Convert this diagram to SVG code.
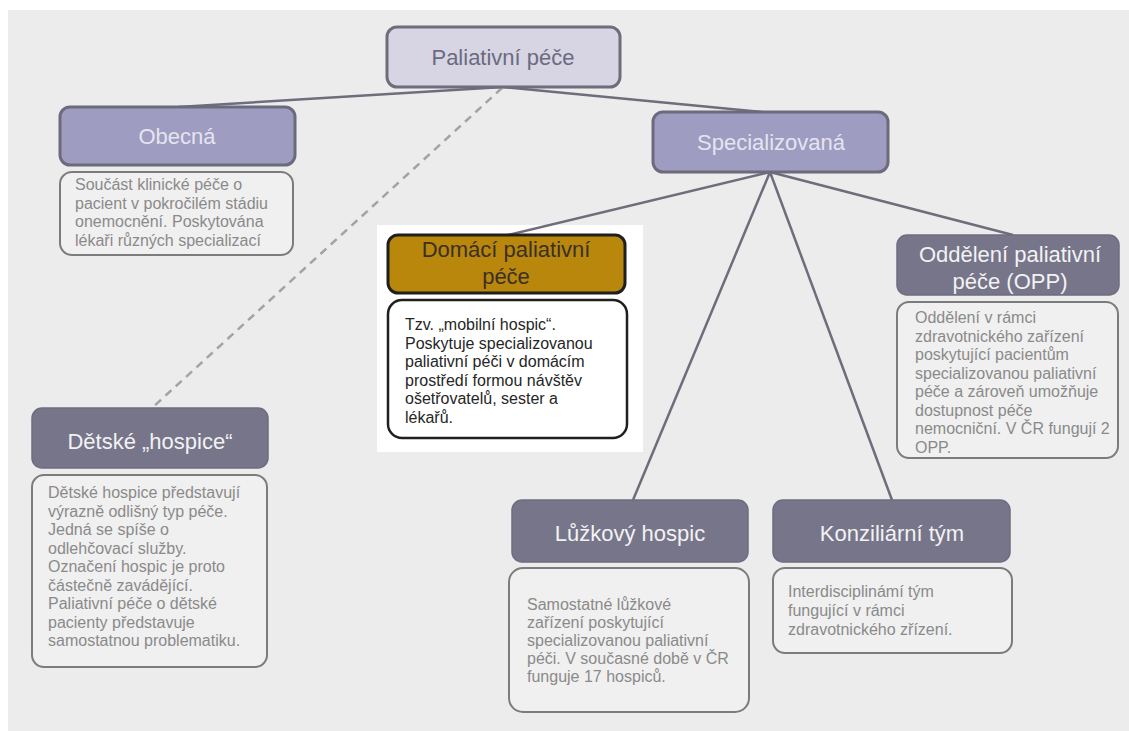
<svg xmlns="http://www.w3.org/2000/svg" width="1129" height="731" viewBox="0 0 1129 731">
<style>
.hdrL{fill:#d7d5e3;stroke:#6f6d7c;stroke-width:3}
.hdrM{fill:#9e9cc1;stroke:#6c6a7c;stroke-width:3}
.hdrD{fill:#77758a;stroke:#6e6c80;stroke-width:1.5}
.desc{fill:#f0f0f0;stroke:#7c7c7c;stroke-width:2}
.conn{stroke:#6f6d7c;stroke-width:2.5;fill:none}
.dash{stroke:#a3a3a3;stroke-width:2.5;fill:none;stroke-dasharray:8 6}
text{font-family:"Liberation Sans",Arial,sans-serif}
.tH{font-size:22px;text-anchor:middle}
.tD{font-size:16px;fill:#8a8a8a}
</style>
<rect x="8" y="10" width="1121" height="721" fill="#ececec"/>
<rect x="377" y="225" width="266" height="227" fill="#ffffff"/>
<g id="connectors">
<line class="conn" x1="503" y1="87" x2="178" y2="107"/>
<line class="conn" x1="503" y1="87" x2="762" y2="112"/>
<line class="dash" x1="502" y1="88" x2="152" y2="408"/>
<line class="conn" x1="770" y1="172" x2="508" y2="235"/>
<line class="conn" x1="770" y1="172" x2="633" y2="500"/>
<line class="conn" x1="770" y1="172" x2="892" y2="500"/>
<line class="conn" x1="770" y1="172" x2="1013" y2="235"/>
</g>
<g id="paliativni">
<rect class="hdrL" x="387" y="27" width="233" height="60" rx="10"/>
<text class="tH" x="503" y="65" fill="#6c6a80">Paliativní péče</text>
</g>
<g id="obecna">
<rect class="hdrM" x="60" y="107" width="235" height="58" rx="10"/>
<text class="tH" x="177" y="144" fill="#e6e4f0">Obecná</text>
<rect class="desc" x="60" y="172" width="233" height="83" rx="12"/>
<text class="tD" x="75"><tspan x="75" y="190">Součást klinické péče o</tspan><tspan x="75" y="208.5">pacient v pokročilém stádiu</tspan><tspan x="75" y="227">onemocnění. Poskytována</tspan><tspan x="75" y="245.5">lékaři různých specializací</tspan></text>
</g>
<g id="specializovana">
<rect class="hdrM" x="653" y="112" width="235" height="60" rx="10"/>
<text class="tH" x="771" y="150" fill="#e6e4f0">Specializovaná</text>
</g>
<g id="domaci">
<rect x="388" y="235" width="237" height="58" rx="10" fill="#b8870c" stroke="#1f1f1f" stroke-width="3"/>
<text class="tH" x="506" fill="#3a3026"><tspan x="506" y="257">Domácí paliativní</tspan><tspan x="506" y="284">péče</tspan></text>
<rect x="388" y="300" width="239" height="138" rx="14" fill="#ffffff" stroke="#1f1f1f" stroke-width="2.5"/>
<text class="tD" x="405" style="fill:#262626"><tspan x="405" y="330">Tzv. „mobilní hospic“.</tspan><tspan x="405" y="348.5">Poskytuje specializovanou</tspan><tspan x="405" y="367">paliativní péči v domácím</tspan><tspan x="405" y="385.5">prostředí formou návštěv</tspan><tspan x="405" y="404">ošetřovatelů, sester a</tspan><tspan x="405" y="422.5">lékařů.</tspan></text>
</g>
<g id="oddeleni">
<rect class="hdrD" x="897" y="235" width="222" height="60" rx="10"/>
<text class="tH" x="1010" fill="#f2f2f2"><tspan x="1010" y="262">Oddělení paliativní</tspan><tspan x="1010" y="289">péče (OPP)</tspan></text>
<rect class="desc" x="897" y="302" width="221" height="156" rx="12"/>
<text class="tD" x="915"><tspan x="915" y="323">Oddělení v rámci</tspan><tspan x="915" y="341.5">zdravotnického zařízení</tspan><tspan x="915" y="360">poskytující pacientům</tspan><tspan x="915" y="378.5">specializovanou paliativní</tspan><tspan x="915" y="397">péče a zároveň umožňuje</tspan><tspan x="915" y="415.5">dostupnost  péče</tspan><tspan x="915" y="434">nemocniční. V ČR fungují 2</tspan><tspan x="915" y="452.5">OPP.</tspan></text>
</g>
<g id="detske">
<rect class="hdrD" x="32" y="408" width="236" height="60" rx="10"/>
<text class="tH" x="150" y="449" fill="#f2f2f2">Dětské „hospice“</text>
<rect class="desc" x="32" y="475" width="235" height="192" rx="12"/>
<text class="tD" x="48"><tspan x="48" y="498">Dětské hospice představují</tspan><tspan x="48" y="516.5">výrazně odlišný typ péče.</tspan><tspan x="48" y="535">Jedná se spíše o</tspan><tspan x="48" y="553.5">odlehčovací služby.</tspan><tspan x="48" y="572">Označení hospic je proto</tspan><tspan x="48" y="590.5">částečně zavádějící.</tspan><tspan x="48" y="609">Paliativní péče o dětské</tspan><tspan x="48" y="627.5">pacienty představuje</tspan><tspan x="48" y="646">samostatnou problematiku.</tspan></text>
</g>
<g id="luzkovy">
<rect class="hdrD" x="512" y="500" width="236" height="62" rx="10"/>
<text class="tH" x="630" y="541" fill="#f2f2f2">Lůžkový hospic</text>
<rect class="desc" x="509" y="568" width="240" height="144" rx="14"/>
<text class="tD" x="527"><tspan x="527" y="610">Samostatné lůžkové</tspan><tspan x="527" y="628">zařízení poskytující</tspan><tspan x="527" y="646">specializovanou paliativní</tspan><tspan x="527" y="664">péči. V současné době v ČR</tspan><tspan x="527" y="682">funguje 17 hospiců.</tspan></text>
</g>
<g id="konziliarni">
<rect class="hdrD" x="773" y="500" width="237" height="62" rx="10"/>
<text class="tH" x="892" y="541" fill="#f2f2f2">Konziliární tým</text>
<rect class="desc" x="773" y="568" width="239" height="85" rx="12"/>
<text class="tD" x="788"><tspan x="788" y="597">Interdisciplinámí tým</tspan><tspan x="788" y="616">fungující v rámci</tspan><tspan x="788" y="635">zdravotnického zřízení.</tspan></text>
</g>
</svg>
